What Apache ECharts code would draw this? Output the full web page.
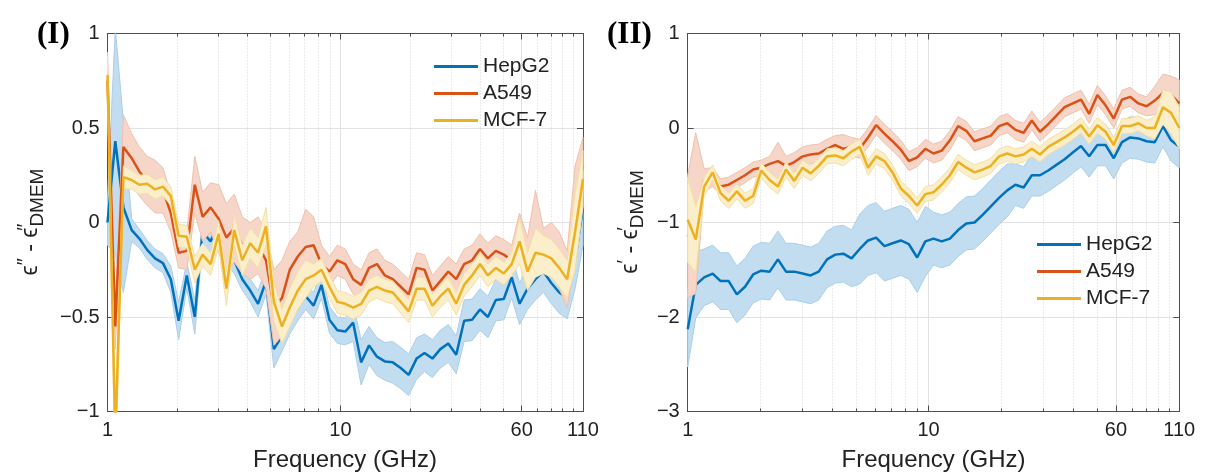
<!DOCTYPE html>
<html>
<head>
<meta charset="utf-8">
<script src="https://cdn.jsdelivr.net/npm/echarts@6/dist/echarts.min.js"></script>
<style>
  html, body { margin: 0; padding: 0; background: #ffffff; }
  #chart { width: 1205px; height: 475px; }
</style>
</head>
<body>
<div id="chart"></div>
<script>
// Measurement frequencies (GHz)
const freq = [1.00, 1.08, 1.17, 1.27, 1.37, 1.48, 1.60, 1.73, 1.87, 2.02,
  2.19, 2.37, 2.56, 2.77, 3.00, 3.24, 3.50, 3.79, 4.10, 4.43,
  4.79, 5.18, 5.61, 6.06, 6.56, 7.09, 7.67, 8.29, 8.97, 9.70,
  10.49, 11.34, 12.27, 13.27, 14.35, 15.52, 16.78, 18.15, 19.63, 21.23,
  22.96, 24.83, 26.85, 29.04, 31.41, 33.97, 36.74, 39.73, 42.97, 46.47,
  50.26, 54.35, 58.78, 63.57, 68.76, 74.36, 80.42, 86.97, 94.06, 101.7, 110.0];

const cellLines = ['HepG2', 'A549', 'MCF-7'];
const xTickValues = [1, 10, 60, 110];
const xMinorValues = [2, 3, 4, 5, 6, 7, 8, 9, 20, 30, 40, 50, 70, 80, 90, 100];
const yTicksLoss = [-1, -0.5, 0, 0.5, 1];
const yTicksPerm = [-3, -2, -1, 0, 1];

// (I) loss factor difference  eps'' - eps''_DMEM : mean and half-width of the shaded band
const lossHepG2 = [0.00, 0.43, 0.08, -0.04, -0.085, -0.145, -0.19, -0.215, -0.30, -0.52,
  -0.28, -0.50, -0.05, -0.10, 0.00, -0.15, -0.20, -0.30, -0.36, -0.43,
  -0.31, -0.67, -0.60, -0.52, -0.45, -0.39, -0.44, -0.33, -0.515, -0.57,
  -0.577, -0.53, -0.74, -0.65, -0.71, -0.735, -0.74, -0.77, -0.806, -0.72,
  -0.69, -0.72, -0.67, -0.64, -0.70, -0.52, -0.515, -0.46, -0.50, -0.41,
  -0.405, -0.29, -0.43, -0.35, -0.30, -0.26, -0.32, -0.37, -0.40, -0.20, 0.08];
const lossHepG2Sd = [0.12, 0.60, 0.45, 0.06, 0.05, 0.05, 0.05, 0.05, 0.07, 0.10,
  0.07, 0.09, 0.07, 0.07, 0.12, 0.07, 0.07, 0.06, 0.06, 0.07,
  0.07, 0.10, 0.08, 0.07, 0.07, 0.07, 0.07, 0.07, 0.07, 0.07,
  0.07, 0.10, 0.12, 0.10, 0.10, 0.10, 0.11, 0.11, 0.11, 0.11,
  0.10, 0.10, 0.10, 0.10, 0.10, 0.11, 0.11, 0.11, 0.11, 0.11,
  0.11, 0.11, 0.11, 0.11, 0.11, 0.11, 0.11, 0.11, 0.11, 0.15, 0.20];

const lossA549 = [0.75, -0.55, 0.40, 0.34, 0.27, 0.22, 0.19, 0.17, 0.05, -0.16,
  -0.15, 0.20, 0.03, 0.08, 0.02, -0.08, -0.03, -0.12, -0.15, -0.12,
  -0.20, -0.45, -0.40, -0.25, -0.18, -0.13, -0.12, -0.22, -0.26, -0.20,
  -0.22, -0.30, -0.33, -0.24, -0.22, -0.28, -0.30, -0.34, -0.38, -0.24,
  -0.25, -0.36, -0.31, -0.26, -0.30, -0.22, -0.20, -0.14, -0.19, -0.15,
  -0.17, -0.20, -0.08, -0.18, -0.05, -0.15, -0.12, -0.20, -0.30, 0.05, 0.30];
const lossA549Sd = [0.15, 0.12, 0.17, 0.13, 0.13, 0.13, 0.14, 0.12, 0.10, 0.08,
  0.10, 0.15, 0.13, 0.13, 0.18, 0.18, 0.18, 0.15, 0.15, 0.15,
  0.15, 0.20, 0.20, 0.15, 0.13, 0.20, 0.15, 0.10, 0.08, 0.08,
  0.08, 0.08, 0.08, 0.08, 0.08, 0.08, 0.08, 0.08, 0.08, 0.08,
  0.08, 0.08, 0.08, 0.08, 0.08, 0.08, 0.08, 0.08, 0.08, 0.08,
  0.08, 0.08, 0.13, 0.10, 0.22, 0.12, 0.12, 0.15, 0.15, 0.25, 0.15];

const lossMCF7 = [0.78, -1.15, 0.24, 0.225, 0.20, 0.205, 0.175, 0.19, 0.14, -0.07,
  -0.075, -0.25, -0.17, -0.22, -0.06, -0.35, -0.04, -0.20, -0.11, -0.16,
  -0.02, -0.42, -0.55, -0.45, -0.36, -0.30, -0.28, -0.25, -0.34, -0.42,
  -0.43, -0.45, -0.43, -0.36, -0.34, -0.36, -0.37, -0.42, -0.47, -0.35,
  -0.35, -0.44, -0.39, -0.35, -0.43, -0.33, -0.28, -0.22, -0.28, -0.24,
  -0.27, -0.22, -0.10, -0.26, -0.16, -0.17, -0.19, -0.24, -0.30, -0.05, 0.23];
const lossMCF7Sd = [0.10, 0.20, 0.06, 0.05, 0.05, 0.05, 0.05, 0.05, 0.05, 0.06,
  0.06, 0.07, 0.06, 0.06, 0.07, 0.09, 0.08, 0.08, 0.08, 0.08,
  0.10, 0.10, 0.09, 0.10, 0.10, 0.10, 0.06, 0.06, 0.06, 0.06,
  0.06, 0.06, 0.06, 0.06, 0.06, 0.06, 0.06, 0.06, 0.06, 0.06,
  0.06, 0.06, 0.06, 0.06, 0.06, 0.06, 0.06, 0.06, 0.06, 0.06,
  0.06, 0.06, 0.12, 0.10, 0.13, 0.10, 0.10, 0.10, 0.10, 0.20, 0.15];

// (II) permittivity difference  eps' - eps'_DMEM
const permHepG2 = [-2.13, -1.66, -1.58, -1.54, -1.62, -1.62, -1.76, -1.68, -1.55, -1.51,
  -1.52, -1.39, -1.52, -1.52, -1.54, -1.56, -1.52, -1.39, -1.34, -1.33,
  -1.38, -1.28, -1.19, -1.16, -1.25, -1.22, -1.19, -1.23, -1.37, -1.20,
  -1.17, -1.20, -1.17, -1.08, -1.01, -1.00, -0.92, -0.83, -0.74, -0.66,
  -0.60, -0.63, -0.50, -0.50, -0.45, -0.39, -0.33, -0.26, -0.19, -0.30,
  -0.18, -0.18, -0.32, -0.15, -0.10, -0.11, -0.14, -0.15, 0.02, -0.13, -0.20];
const permHepG2Sd = [0.40, 0.35, 0.30, 0.30, 0.30, 0.30, 0.30, 0.30, 0.30, 0.30,
  0.30, 0.30, 0.30, 0.30, 0.30, 0.30, 0.30, 0.30, 0.30, 0.30,
  0.30, 0.37, 0.37, 0.37, 0.37, 0.37, 0.37, 0.37, 0.37, 0.37,
  0.28, 0.28, 0.28, 0.28, 0.28, 0.28, 0.28, 0.28, 0.28, 0.28,
  0.22, 0.22, 0.22, 0.22, 0.22, 0.22, 0.22, 0.22, 0.22, 0.22,
  0.22, 0.22, 0.22, 0.22, 0.22, 0.22, 0.22, 0.22, 0.22, 0.22, 0.22];

const permA549 = [-1.15, -0.90, -0.55, -0.52, -0.62, -0.60, -0.55, -0.50, -0.44, -0.42,
  -0.38, -0.35, -0.40, -0.36, -0.30, -0.28, -0.27, -0.22, -0.18, -0.22,
  -0.20, -0.22, -0.10, 0.03, -0.06, -0.14, -0.23, -0.35, -0.31, -0.22,
  -0.27, -0.24, -0.13, 0.02, -0.03, -0.14, -0.11, -0.08, 0.02, 0.05,
  -0.02, -0.05, 0.08, -0.04, 0.04, 0.13, 0.22, 0.26, 0.30, 0.15,
  0.35, 0.24, 0.10, 0.30, 0.33, 0.26, 0.23, 0.29, 0.37, 0.35, 0.26];
const permA549Sd = [0.65, 0.85, 0.12, 0.10, 0.08, 0.08, 0.08, 0.08, 0.08, 0.08,
  0.08, 0.20, 0.10, 0.10, 0.10, 0.10, 0.10, 0.10, 0.10, 0.15,
  0.10, 0.10, 0.10, 0.10, 0.10, 0.10, 0.10, 0.10, 0.10, 0.10,
  0.10, 0.10, 0.10, 0.10, 0.10, 0.10, 0.10, 0.10, 0.10, 0.10,
  0.10, 0.10, 0.10, 0.10, 0.10, 0.10, 0.10, 0.10, 0.10, 0.10,
  0.10, 0.10, 0.10, 0.10, 0.10, 0.10, 0.10, 0.15, 0.20, 0.20, 0.25];

const permMCF7 = [-0.97, -1.18, -0.62, -0.47, -0.69, -0.77, -0.67, -0.77, -0.72, -0.45,
  -0.55, -0.62, -0.44, -0.56, -0.42, -0.48, -0.40, -0.30, -0.29, -0.32,
  -0.25, -0.20, -0.42, -0.30, -0.35, -0.47, -0.64, -0.72, -0.82, -0.70,
  -0.68, -0.60, -0.50, -0.36, -0.42, -0.47, -0.44, -0.40, -0.30, -0.27,
  -0.30, -0.28, -0.22, -0.28, -0.20, -0.15, -0.10, -0.04, 0.03, -0.09,
  0.03, -0.04, -0.18, 0.02, 0.02, 0.05, 0.00, 0.00, 0.22, 0.16, 0.00];
const permMCF7Sd = [0.45, 0.35, 0.10, 0.08, 0.08, 0.08, 0.08, 0.08, 0.08, 0.08,
  0.08, 0.08, 0.08, 0.08, 0.08, 0.08, 0.08, 0.08, 0.08, 0.08,
  0.08, 0.08, 0.08, 0.08, 0.08, 0.08, 0.08, 0.08, 0.08, 0.08,
  0.08, 0.08, 0.08, 0.08, 0.08, 0.08, 0.08, 0.08, 0.08, 0.08,
  0.08, 0.08, 0.08, 0.08, 0.08, 0.08, 0.08, 0.08, 0.08, 0.08,
  0.08, 0.08, 0.08, 0.08, 0.08, 0.08, 0.08, 0.12, 0.18, 0.22, 0.22];

// Line colours and the lighter fills used for the +/- bands
const lineColors = ['#0072BD', '#D95319', '#EDB120'];
const bandFills = ['#C3DDF0', '#F6D6C8', '#FBEECB'];
const bandEdges = ['#A9CEEA', '#EFC0AC', '#F4DFA3'];

const FONT = '"Liberation Sans", Arial, "DejaVu Sans", sans-serif';
const AXIS_COLOR = '#4d4d4d';
const TEXT_COLOR = '#222222';

const panels = [
  { means: [lossHepG2, lossA549, lossMCF7], sds: [lossHepG2Sd, lossA549Sd, lossMCF7Sd],
    yMin: -1, yMax: 1, yStep: 0.5, yTicks: yTicksLoss },
  { means: [permHepG2, permA549, permMCF7], sds: [permHepG2Sd, permA549Sd, permMCF7Sd],
    yMin: -3, yMax: 1, yStep: 1, yTicks: yTicksPerm }
];

const grids = [
  { left: 107.5, top: 33.5, width: 475.5, height: 378 },
  { left: 687.7, top: 33.5, width: 491.6, height: 378 }
];

function fmtTick(v) {
  const s = String(Math.abs(v));
  return v < 0 ? '\u2212' + s : s;
}

function makeXAxes(g) {
  const lineStyle = { color: AXIS_COLOR, width: 1 };
  const base = { type: 'log', logBase: 10, gridIndex: g, min: 1, max: 110 };
  return [
    Object.assign({}, base, {
      position: 'bottom',
      axisLine: { show: true, onZero: false, lineStyle },
      axisTick: { show: true, inside: true, length: 6, customValues: xTickValues, lineStyle },
      axisLabel: { show: true, customValues: xTickValues, margin: 9,
        fontSize: 20, fontFamily: FONT, color: TEXT_COLOR, formatter: v => String(v) },
      splitLine: { show: true, lineStyle: { color: '#e2e2e2', width: 1 } }
    }),
    Object.assign({}, base, {
      position: 'bottom',
      axisLine: { show: false, onZero: false },
      axisTick: { show: true, inside: true, length: 3, customValues: xMinorValues, lineStyle },
      axisLabel: { show: false },
      splitLine: { show: true, lineStyle: { color: '#d4d4d4', width: 1, type: [1, 2] } }
    }),
    Object.assign({}, base, {
      position: 'top',
      axisLine: { show: true, onZero: false, lineStyle },
      axisTick: { show: true, inside: true, length: 6, customValues: xTickValues, lineStyle },
      axisLabel: { show: false },
      splitLine: { show: false }
    }),
    Object.assign({}, base, {
      position: 'top',
      axisLine: { show: false, onZero: false },
      axisTick: { show: true, inside: true, length: 3, customValues: xMinorValues, lineStyle },
      axisLabel: { show: false },
      splitLine: { show: false }
    })
  ];
}

function makeYAxes(g, p) {
  const lineStyle = { color: AXIS_COLOR, width: 1 };
  const base = { type: 'value', gridIndex: g, min: p.yMin, max: p.yMax, interval: p.yStep };
  return [
    Object.assign({}, base, {
      position: 'left',
      axisLine: { show: true, onZero: false, lineStyle },
      axisTick: { show: true, inside: true, length: 6, lineStyle },
      axisLabel: { show: true, margin: 8, fontSize: 20, fontFamily: FONT, color: TEXT_COLOR,
        formatter: fmtTick },
      splitLine: { show: true, lineStyle: { color: '#e2e2e2', width: 1 } }
    }),
    Object.assign({}, base, {
      position: 'right',
      axisLine: { show: true, onZero: false, lineStyle },
      axisTick: { show: true, inside: true, length: 6, lineStyle },
      axisLabel: { show: false },
      splitLine: { show: false }
    })
  ];
}

const xAxes = [];
const yAxes = [];
const series = [];

panels.forEach((p, g) => {
  const xBase = xAxes.length;
  const yBase = yAxes.length;
  xAxes.push(...makeXAxes(g));
  yAxes.push(...makeYAxes(g, p));
  cellLines.forEach((name, k) => {
    const mean = p.means[k];
    const sd = p.sds[k];
    // shaded band: mean +/- sd, drawn as one polygon through the axis scales
    series.push({
      type: 'custom',
      name: name + ' band',
      xAxisIndex: xBase,
      yAxisIndex: yBase,
      data: [[1, 0]],
      clip: true,
      silent: true,
      z: 2 + 2 * k,
      renderItem: function (params, api) {
        const upper = [];
        const lower = [];
        for (let i = 0; i < freq.length; i++) {
          upper.push(api.coord([freq[i], mean[i] + sd[i]]));
          lower.push(api.coord([freq[i], mean[i] - sd[i]]));
        }
        return {
          type: 'polygon',
          shape: { points: upper.concat(lower.reverse()) },
          style: { fill: bandFills[k], stroke: bandEdges[k], lineWidth: 1 }
        };
      }
    });
    series.push({
      type: 'line',
      name: name,
      xAxisIndex: xBase,
      yAxisIndex: yBase,
      data: freq.map((f, i) => [f, mean[i]]),
      symbol: 'none',
      showSymbol: false,
      clip: true,
      z: 3 + 2 * k,
      itemStyle: { color: lineColors[k] },
      lineStyle: { color: lineColors[k], width: 2.5 }
    });
  });
});

const legendBase = {
  data: cellLines,
  orient: 'vertical',
  icon: 'rect',
  itemWidth: 44,
  itemHeight: 3,
  itemGap: 6,
  padding: 0,
  selectedMode: false,
  textStyle: { fontSize: 21, lineHeight: 20, fontFamily: FONT, color: TEXT_COLOR }
};

function yLabel(x, prime) {
  return {
    type: 'text',
    x: x,
    y: 222,
    rotation: Math.PI / 2,
    style: {
      text: '{e|\u03F5}{sp|' + prime + '}{e| - \u03F5}{sp0|' + prime + '}{sb|DMEM}',
      align: 'center',
      verticalAlign: 'middle',
      fill: TEXT_COLOR,
      rich: {
        e: { fontSize: 23, fontFamily: FONT, lineHeight: 32, verticalAlign: 'middle', fill: TEXT_COLOR },
        sp: { fontSize: 20, fontFamily: FONT, lineHeight: 32, verticalAlign: 'top', fill: TEXT_COLOR },
        sp0: { fontSize: 20, fontFamily: FONT, lineHeight: 32, verticalAlign: 'top', width: 1, fill: TEXT_COLOR },
        sb: { fontSize: 19, fontFamily: FONT, lineHeight: 32, verticalAlign: 'bottom', fill: TEXT_COLOR }
      }
    }
  };
}

const chart = echarts.init(document.getElementById('chart'), null, { renderer: 'canvas' });
chart.setOption({
  animation: false,
  backgroundColor: '#ffffff',
  grid: grids,
  xAxis: xAxes,
  yAxis: yAxes,
  legend: [
    Object.assign({}, legendBase, { left: 434, top: 56 }),
    Object.assign({}, legendBase, { left: 1037, top: 234 })
  ],
  series: series,
  graphic: [
    { type: 'text', x: 37, y: 35, style: { text: '(I)', fontSize: 31, fontWeight: 'bold',
      fontFamily: '"Liberation Serif", "Times New Roman", serif', fill: '#000', verticalAlign: 'middle' } },
    { type: 'text', x: 607, y: 35, style: { text: '(II)', fontSize: 31, fontWeight: 'bold',
      fontFamily: '"Liberation Serif", "Times New Roman", serif', fill: '#000', verticalAlign: 'middle' } },
    { type: 'text', x: 345, y: 460, style: { text: 'Frequency (GHz)', fontSize: 24, fontFamily: FONT,
      fill: TEXT_COLOR, align: 'center', verticalAlign: 'middle' } },
    { type: 'text', x: 933.5, y: 460, style: { text: 'Frequency (GHz)', fontSize: 24, fontFamily: FONT,
      fill: TEXT_COLOR, align: 'center', verticalAlign: 'middle' } },
    yLabel(31, '\u2033'),
    yLabel(631, '\u2032')
  ]
});
</script>
</body>
</html>
